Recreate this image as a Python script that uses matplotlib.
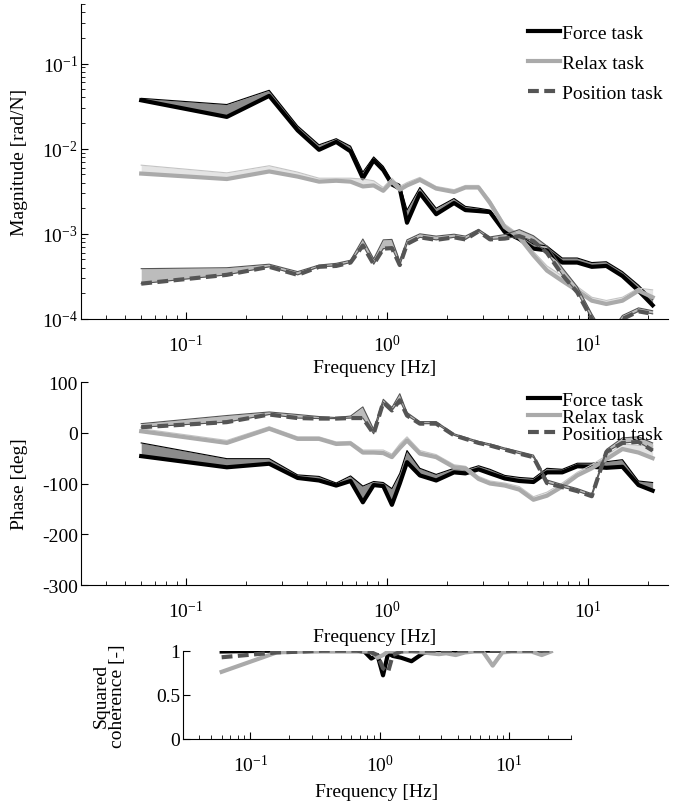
import matplotlib
matplotlib.use('Agg')
from matplotlib import pyplot as plt
from matplotlib.ticker import LogLocator, FixedLocator

plt.rcParams['font.family'] = ['Liberation Serif', 'DejaVu Serif']
plt.rcParams['mathtext.fontset'] = 'stix'
plt.rcParams['axes.unicode_minus'] = False
plt.rcParams['font.size'] = 14

freq = [0.06, 0.16, 0.26, 0.36, 0.46, 0.56, 0.66, 0.76, 0.86, 0.96,
        1.06, 1.16, 1.26, 1.46, 1.76, 2.16, 2.46, 2.86, 3.26, 3.86,
        4.56, 5.36, 6.26, 7.46, 8.86, 10.46, 12.36, 14.86, 17.86, 21.0]

# magnitude [rad/N]: mean and band edge
mag_force = [0.037, 0.0236, 0.0417, 0.0164, 0.0097, 0.012, 0.0093, 0.0045, 0.0073, 0.0056,
             0.0038, 0.0034, 0.00135, 0.0030, 0.0017, 0.0023, 0.0019, 0.00185, 0.0018, 0.00105,
             0.00087, 0.00067, 0.00064, 0.00046, 0.00046, 0.00041, 0.00042, 0.00032, 0.000215, 0.000145]
mag_force_band = [0.039, 0.033, 0.0485, 0.0185, 0.0111, 0.0131, 0.0107, 0.0053, 0.0080, 0.0062,
                  0.0042, 0.0038, 0.0019, 0.0035, 0.0020, 0.0026, 0.0021, 0.0020, 0.0019, 0.00115,
                  0.00097, 0.00076, 0.00072, 0.00052, 0.00052, 0.00046, 0.00047, 0.00036, 0.00025, 0.00017]
mag_relax = [0.0051, 0.0044, 0.0054, 0.0047, 0.0041, 0.0042, 0.0041, 0.0036, 0.0037, 0.0032,
             0.0041, 0.0033, 0.0037, 0.0043, 0.0034, 0.0031, 0.0035, 0.0035, 0.0023, 0.0012,
             0.00091, 0.00056, 0.00037, 0.00028, 0.000215, 0.000164, 0.00015, 0.000164, 0.000215, 0.00018]
mag_relax_band = [0.0064, 0.0052, 0.0063, 0.0053, 0.0045, 0.0045, 0.0045, 0.0044, 0.0042, 0.0035,
                  0.0045, 0.0036, 0.0040, 0.0046, 0.0036, 0.0033, 0.0037, 0.0037, 0.0025, 0.0013,
                  0.00098, 0.00062, 0.00042, 0.00032, 0.00024, 0.00018, 0.000165, 0.00018, 0.00023, 0.00022]
mag_pos = [0.00026, 0.00033, 0.00041, 0.00033, 0.00041, 0.00042, 0.00046, 0.00073, 0.00044, 0.00067,
           0.00068, 0.00043, 0.00076, 0.00091, 0.00085, 0.00091, 0.00086, 0.00107, 0.00086, 0.00088,
           0.00094, 0.00082, 0.00060, 0.00033, 0.000206, 0.0001, 0.00005, 0.0001, 0.000123, 0.000115]
mag_pos_band = [0.00039, 0.00040, 0.00044, 0.00036, 0.00043, 0.00045, 0.00049, 0.00087, 0.00051, 0.00085,
                0.00086, 0.00048, 0.00085, 0.00100, 0.00094, 0.00099, 0.00094, 0.00113, 0.00092, 0.00098,
                0.00112, 0.00095, 0.00072, 0.00040, 0.00024, 0.000115, 0.00006, 0.00011, 0.000135, 0.000125]

# phase [deg]
ph_force = [-46, -68, -61, -89, -94, -104, -95, -137, -103, -105,
            -142, -100, -58, -84, -94, -78, -80, -72, -80, -90,
            -95, -97, -78, -78, -66, -67, -69, -67, -103, -114]
ph_force_band = [-20, -51, -51, -83, -86, -99, -85, -105, -96, -98,
                 -110, -80, -35, -70, -82, -70, -73, -65, -72, -84,
                 -88, -90, -70, -72, -60, -60, -57, -53, -95, -98]
ph_relax = [3, -20, 8, -12, -12, -22, -21, -39, -39, -40,
            -48, -30, -15, -41, -48, -68, -70, -91, -100, -104,
            -112, -132, -124, -106, -84, -70, -52, -32, -39, -50]
ph_relax_band = [8, -15, 12, -8, -8, -18, -17, -34, -34, -34,
                 -42, -22, -8, -35, -43, -63, -66, -86, -95, -99,
                 -106, -126, -117, -99, -78, -63, -45, -22, -25, -25]
ph_pos = [11, 21, 36, 29, 28, 28, 29, 29, -2, 60,
          44, 64, 34, 18, 18, -5, -12, -20, -25, -33,
          -41, -48, -99, -107, -115, -125, -38, -20, -18, -35]
ph_pos_band = [18, 34, 41, 36, 32, 30, 33, 51, 7, 66,
               50, 77, 40, 22, 22, -2, -9, -17, -22, -30,
               -37, -44, -93, -102, -110, -120, -33, -10, -8, -20]

# squared coherence [-]
coh_force = [0.99, 1.0, 1.0, 1.0, 1.0, 1.0, 1.0, 0.99, 0.91, 0.95,
             0.72, 0.97, 0.94, 0.92, 0.88, 0.97, 0.99, 1.0, 1.0, 1.0,
             1.0, 1.0, 1.0, 1.0, 1.0, 1.0, 1.0, 1.0, 1.0, 1.0]
coh_relax = [0.76, 0.98, 0.99, 0.99, 0.99, 0.99, 0.99, 0.99, 0.99, 0.92,
             0.95, 0.99, 0.99, 0.99, 0.99, 0.98, 0.97, 0.96, 0.97, 0.95,
             0.98, 0.99, 0.99, 0.83, 0.98, 0.99, 0.99, 0.99, 0.95, 0.99]
coh_pos = [0.925, 0.98, 0.99, 1.0, 1.0, 1.0, 1.0, 0.99, 0.98, 0.95,
           0.80, 0.76, 0.95, 0.99, 1.0, 1.0, 1.0, 1.0, 1.0, 1.0,
           1.0, 1.0, 1.0, 1.0, 1.0, 1.0, 1.0, 1.0, 1.0, 1.0]

labels = ['Force task', 'Relax task', 'Position task']
line_colors = ['black', '#aaaaaa', '#555555']
fill_colors = ['#8c8c8c', '#e4e4e4', '#bcbcbc']
edge_colors = ['black', '#c4c4c4', '#555555']
styles = ['-', '-', '--']

fig = plt.figure(figsize=(6.92, 8.03), dpi=100)
ax1 = fig.add_axes([0.1166, 0.6015, 0.8485, 0.3923])
ax2 = fig.add_axes([0.1166, 0.2702, 0.8485, 0.2528])
ax3 = fig.add_axes([0.264, 0.0785, 0.561, 0.110])


def draw(ax, means, bands):
    lines = []
    for m, b, lc, fc, ec, ls, lab in zip(means, bands, line_colors, fill_colors,
                                         edge_colors, styles, labels):
        ax.fill_between(freq, m, b, color=fc, lw=0)
        ax.plot(freq, b, color=ec, lw=0.8)
        ax.plot(freq, m, color=ec, lw=0.8)
        ln, = ax.plot(freq, m, color=lc, lw=3, ls=ls, label=lab,
                      dashes=(2.6, 1.3) if ls == '--' else (None, None))
        lines.append(ln)
    return lines


def style(ax, lpad):
    ax.set_xscale('log')
    ax.set_xlim(0.03, 25)
    for s in ['top', 'right']:
        ax.spines[s].set_visible(False)
    ax.tick_params(which='both', direction='in', top=False, right=False)
    ax.tick_params(which='major', length=5)
    ax.tick_params(which='minor', length=3)
    ax.tick_params(axis='x', pad=10.5)
    ax.tick_params(axis='y', pad=2)
    ax.xaxis.set_major_locator(LogLocator(base=10, numticks=10))
    ax.set_xlabel('Frequency [Hz]', labelpad=lpad)


h = draw(ax1, [mag_force, mag_relax, mag_pos], [mag_force_band, mag_relax_band, mag_pos_band])
style(ax1, 3)
ax1.set_yscale('log')
ax1.set_ylim(1e-4, 0.5)
ax1.set_ylabel('Magnitude [rad/N]')
ax1.yaxis.set_label_coords(-0.09, 0.5)
fig.legend(handles=h, loc='upper left', bbox_to_anchor=(0.763, 0.969), frameon=False,
           handlelength=1.65, handletextpad=0.1, labelspacing=0.65, borderpad=0, borderaxespad=0)

h = draw(ax2, [ph_force, ph_relax, ph_pos], [ph_force_band, ph_relax_band, ph_pos_band])
style(ax2, 5)
ax2.set_ylim(-300, 100)
ax2.yaxis.set_major_locator(FixedLocator([-300, -200, -100, 0, 100]))
ax2.set_ylabel('Phase [deg]')
ax2.yaxis.set_label_coords(-0.09, 0.5)
fig.legend(handles=h, loc='upper left', bbox_to_anchor=(0.763, 0.511), frameon=False,
           handlelength=1.65, handletextpad=0.1, labelspacing=-0.05, borderpad=0, borderaxespad=0)

for c, lc, ls in zip([coh_force, coh_relax, coh_pos], line_colors, styles):
    ax3.plot(freq, c, color=lc, lw=3, ls=ls, dashes=(2.6, 1.3) if ls == '--' else (None, None))
style(ax3, 6)
ax3.set_xlim(0.03, 30)
ax3.set_ylim(0, 1)
ax3.yaxis.set_major_locator(FixedLocator([0, 0.5, 1]))
ax3.set_yticklabels(['0', '0.5', '1'])
ax3.set_ylabel('Squared\ncoherence [-]', linespacing=1.0)
ax3.yaxis.set_label_coords(-0.145, 0.5)

fig.savefig('out.png', dpi=100)
